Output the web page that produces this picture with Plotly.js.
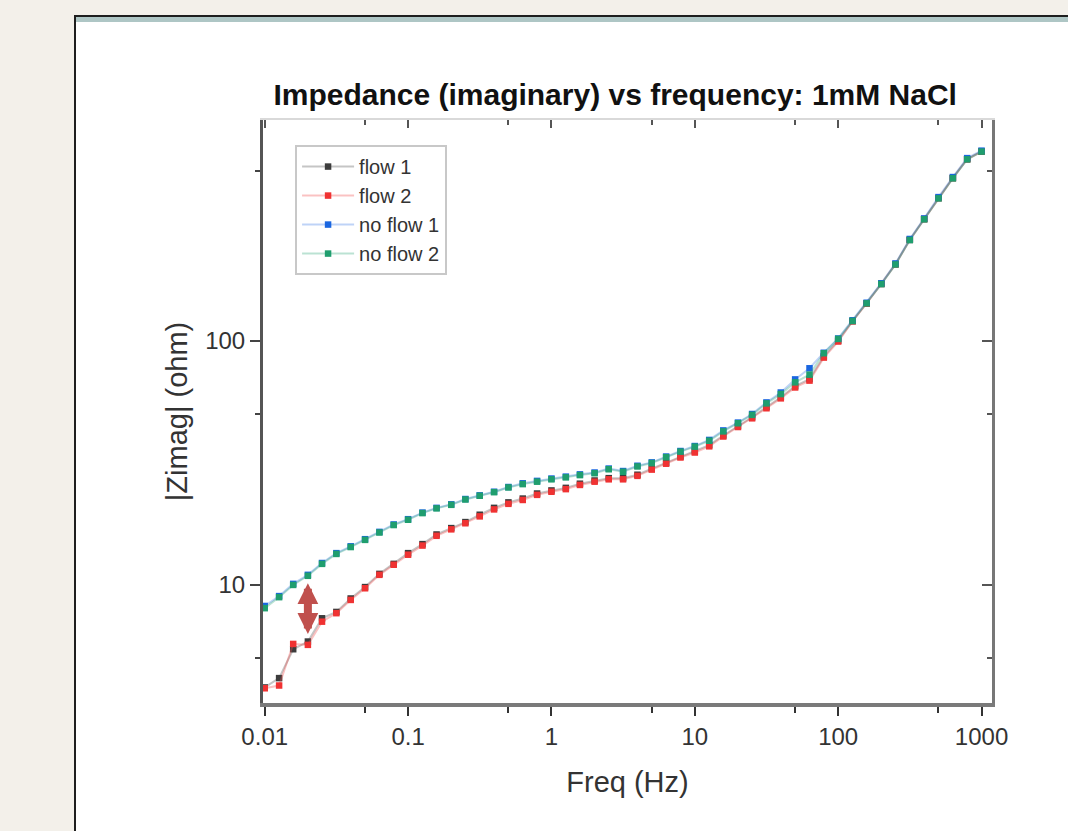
<!DOCTYPE html>
<html>
<head>
<meta charset="utf-8">
<script src="https://cdn.plot.ly/plotly-3.0.1.min.js"></script>
<style>
  html, body { margin: 0; padding: 0; background: #f3f0ea; width: 1068px; height: 831px; overflow: hidden; }
  #panel { position: absolute; left: 74px; top: 15px; width: 1100px; height: 900px; background: #ffffff;
           border-left: 2px solid #1e1e1e; border-top: 2px solid #1e1e1e; }
  #strip { position: absolute; left: 0; top: 0; width: 100%; height: 5px; background: #aec6c5; }
  #chart { position: absolute; left: 0; top: 0; width: 1068px; height: 831px; }
</style>
</head>
<body>
<div id="panel"><div id="strip"></div></div>
<div id="chart"></div>
<script>
// ---- data ----
const freq = [0.01, 0.0126, 0.0158, 0.02, 0.0251, 0.0316, 0.0398, 0.0501, 0.0631, 0.0794,
  0.1, 0.126, 0.158, 0.2, 0.251, 0.316, 0.398, 0.501, 0.631, 0.794,
  1, 1.26, 1.58, 2, 2.51, 3.16, 3.98, 5.01, 6.31, 7.94,
  10, 12.6, 15.8, 20, 25.1, 31.6, 39.8, 50.1, 63.1, 79.4,
  100, 126, 158, 200, 251, 316, 398, 501, 631, 794, 1000];

const flow1 = [3.80, 4.15, 5.45, 5.86, 7.30, 7.75, 8.80, 9.80, 11.1, 12.2,
  13.5, 14.7, 16.1, 17.1, 18.1, 19.4, 20.7, 21.8, 22.6, 23.7,
  24.4, 25.0, 26.0, 26.8, 27.4, 27.4, 28.3, 30.0, 31.7, 33.6,
  35.3, 37.4, 41.0, 44.8, 48.7, 53.6, 58.8, 65.3, 69.8, 86.5,
  100.3, 120.6, 142.6, 171.3, 206.2, 259.6, 315.8, 385, 465, 556, 598];

const flow2 = [3.77, 3.87, 5.73, 5.68, 7.07, 7.66, 8.68, 9.69, 11.0, 12.1,
  13.3, 14.5, 15.9, 16.9, 17.9, 19.1, 20.4, 21.5, 22.3, 23.4,
  24.1, 24.7, 25.7, 26.5, 27.1, 27.1, 28.0, 29.7, 31.4, 33.3,
  34.9, 37.0, 40.6, 44.4, 48.2, 53.0, 58.2, 64.5, 68.8, 85.5,
  99.5, 120.5, 142.5, 171.5, 206.5, 260, 316.5, 386, 466, 557, 599];

const noFlow1 = [8.2, 9.0, 10.1, 11.0, 12.3, 13.5, 14.4, 15.4, 16.5, 17.7,
  18.6, 19.8, 20.7, 21.4, 22.5, 23.3, 24.1, 25.2, 26.1, 26.7,
  27.3, 27.8, 28.4, 28.9, 30.0, 29.3, 30.8, 31.8, 33.6, 35.4,
  37.1, 39.3, 43.0, 46.3, 50.2, 56.0, 61.5, 69.6, 77.3, 89.5,
  102.4, 121.6, 143.5, 172.5, 208, 262, 318, 389, 470, 562, 603];

const noFlow2 = [8.03, 8.91, 10.0, 10.9, 12.2, 13.4, 14.3, 15.3, 16.4, 17.6,
  18.5, 19.7, 20.6, 21.3, 22.4, 23.2, 24.0, 25.1, 25.9, 26.5,
  27.1, 27.6, 28.2, 28.7, 29.8, 29.1, 30.6, 31.6, 33.4, 35.2,
  36.9, 39.0, 42.6, 46.0, 49.8, 55.5, 60.6, 67.7, 72.8, 89.1,
  102.0, 120.9, 142.7, 171.2, 206, 259.4, 315.6, 384.6, 464.5, 555.6, 597.6];

const seriesNames = ['flow 1', 'flow 2', 'no flow 1', 'no flow 2'];
const xTickVals = [0.01, 0.1, 1, 10, 100, 1000];
const xTickText = ['0.01', '0.1', '1', '10', '100', '1000'];
const xMinorVals = [0.05, 0.5, 5, 50, 500];
const yTickVals = [10, 100];
const yTickText = ['10', '100'];
const yMinorVals = [5, 50, 500];

// double-headed arrow marking the gap (frequency, top value, bottom value)
const arrowFreq = 0.02;
const arrowTop = 10.3;
const arrowBottom = 6.3;

// ---- styling ----
const FONT = 'Liberation Sans, Arial, Helvetica, sans-serif';
const markerColors = ['#3c3c3c', '#f03232', '#1a66e0', '#1f9e6e'];
const lineColors = ['rgba(90,90,90,0.35)', 'rgba(240,80,80,0.35)', 'rgba(40,110,230,0.30)', 'rgba(30,160,110,0.30)'];
const ySets = [flow1, flow2, noFlow1, noFlow2];

const traces = ySets.map((ys, i) => ({
  type: 'scatter', mode: 'lines+markers', name: seriesNames[i],
  x: freq, y: ys,
  line: { color: lineColors[i], width: 2 },
  marker: { symbol: 'square', size: 6.5, color: markerColors[i], line: { width: 0 } }
}));
traces.push({ type: 'scatter', x: [], y: [], xaxis: 'x2', yaxis: 'y2', showlegend: false, hoverinfo: 'skip' });

const xRange = [-2.012, 3.073];
const yRange = [0.516, 2.906];

const layout = {
  width: 1068, height: 831,
  paper_bgcolor: 'rgba(0,0,0,0)', plot_bgcolor: '#ffffff',
  margin: { l: 263, r: 76, t: 120, b: 128, autoexpand: false },
  font: { family: FONT, color: '#333' },
  title: { text: '<b>Impedance (imaginary) vs frequency: 1mM NaCl</b>',
           font: { size: 30, family: FONT, color: '#111' },
           x: 0.576, xref: 'container', xanchor: 'center', y: 0.886, yref: 'container', yanchor: 'middle' },
  showlegend: true,
  legend: { x: 0.044, y: 0.957, xanchor: 'left', yanchor: 'top', bgcolor: '#ffffff',
            bordercolor: '#c8c8c8', borderwidth: 2, itemwidth: 52,
            font: { size: 20, family: FONT, color: '#333' } },
  xaxis: { type: 'log', range: xRange, tickvals: xTickVals, ticktext: xTickText,
           ticks: 'outside', ticklen: 9, tickwidth: 2, tickcolor: '#333',
           showline: true, linecolor: '#7a7a7a', linewidth: 4, showgrid: false, zeroline: false,
           tickfont: { size: 24, family: FONT, color: '#333' },
           minor: { tickvals: xMinorVals, ticks: 'outside', ticklen: 6, tickwidth: 2, tickcolor: '#333', showgrid: false },
           title: { text: 'Freq (Hz)', font: { size: 29, family: FONT, color: '#333' }, standoff: 24 } },
  yaxis: { type: 'log', range: yRange, tickvals: yTickVals, ticktext: yTickText,
           ticks: 'outside', ticklen: 10, tickwidth: 2, tickcolor: '#444',
           showline: true, linecolor: '#555', linewidth: 3, showgrid: false, zeroline: false,
           tickfont: { size: 24, family: FONT, color: '#333' },
           minor: { tickvals: yMinorVals, ticks: 'outside', ticklen: 5, tickwidth: 2, tickcolor: '#444', showgrid: false },
           title: { text: '|Zimag| (ohm)', font: { size: 29, family: FONT, color: '#333' }, standoff: 10 } },
  xaxis2: { type: 'log', range: xRange, overlaying: 'x', side: 'top', anchor: 'y2',
            tickvals: xTickVals, showticklabels: false, ticks: 'inside', ticklen: 8, tickwidth: 2, tickcolor: '#555',
            showline: true, linecolor: '#d9d9d9', linewidth: 2, showgrid: false, zeroline: false,
            minor: { tickvals: xMinorVals, ticks: 'inside', ticklen: 5, tickwidth: 2, tickcolor: '#555', showgrid: false } },
  yaxis2: { type: 'log', range: yRange, overlaying: 'y', side: 'right', anchor: 'x2',
            tickvals: yTickVals, showticklabels: false, ticks: 'inside', ticklen: 10, tickwidth: 2, tickcolor: '#555',
            showline: true, linecolor: '#777', linewidth: 3, showgrid: false, zeroline: false,
            minor: { tickvals: yMinorVals, ticks: 'inside', ticklen: 5, tickwidth: 2, tickcolor: '#555', showgrid: false } },
  annotations: [{
    x: Math.log10(arrowFreq), y: Math.log10(arrowBottom), xref: 'x', yref: 'y',
    ax: Math.log10(arrowFreq), ay: Math.log10(arrowTop), axref: 'x', ayref: 'y',
    text: '', showarrow: true, arrowhead: 2, arrowside: 'end+start',
    arrowsize: 0.52, arrowwidth: 8, arrowcolor: '#c0504d'
  }]
};

Plotly.newPlot('chart', traces, layout, { displayModeBar: false, staticPlot: true });
</script>
</body>
</html>
